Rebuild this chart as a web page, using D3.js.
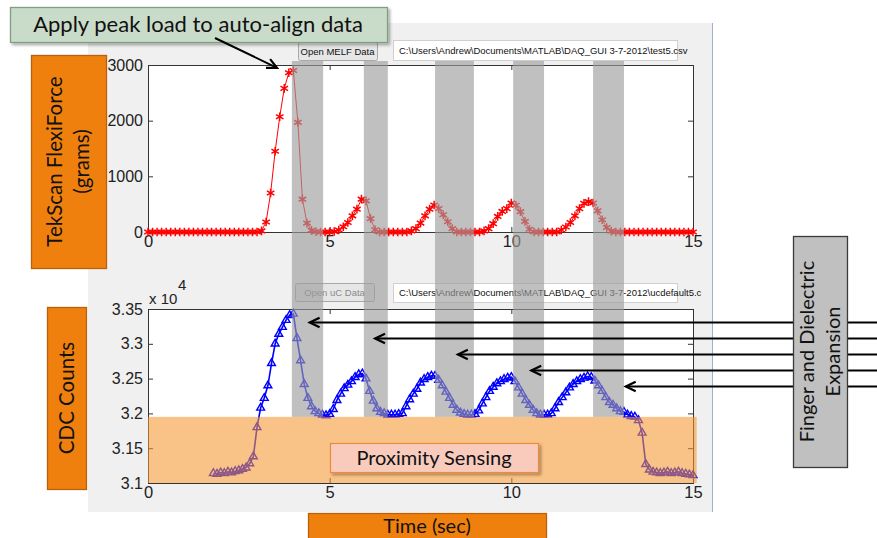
<!DOCTYPE html>
<html>
<head>
<meta charset="utf-8">
<script src="https://cdn.jsdelivr.net/npm/d3@7"></script>
<style>
body { margin: 0; background: #fff; }
svg { display: block; }
</style>
</head>
<body>
<div id="chart"></div>
<script>
// force sensor, sampled every 0.125 s from t = 0
const forceStep = 0.125;
const forceGrams = [
	0, 0, 0, 0, 0, 0, 0, 0, 0, 0, 0, 0, 0, 0, 0, 0, 0, 0, 0, 0, 0, 0, 0, 0, 0,
	20, 180, 700, 1450, 2070, 2580, 2860, 2900, 1970, 590, 160, 30, 5,
	0, 0, 0,
	10, 35, 95, 170, 290, 410, 590, 560, 240, 40,
	0, 0, 0, 0, 0, 0, 0,
	20, 60, 160, 290, 410, 485, 420, 310, 185, 60,
	0, 0, 0, 0, 0, 0,
	20, 60, 150, 280, 370, 420, 520, 480, 365, 190, 50,
	0, 0, 0, 0, 0, 0,
	35, 90, 170, 290, 420, 515, 545, 520, 380, 220, 80, 15,
	0, 0, 0, 0, 0, 0, 0, 0, 0, 0, 0, 0, 0, 0, 0, 0, 0, 0
];

// capacitive counts (x 10^4), sampled every 0.1 s from t = 1.8
const cdcStart = 1.8;
const cdcStep = 0.1;
const cdcCounts = [
	3.114, 3.113, 3.115, 3.114, 3.116, 3.115, 3.117, 3.118, 3.120, 3.122,
	3.128, 3.138, 3.180, 3.208, 3.222, 3.240, 3.272, 3.300, 3.314, 3.324,
	3.334, 3.341, 3.343, 3.308, 3.276, 3.242, 3.222, 3.210, 3.203, 3.200,
	3.198, 3.197, 3.199, 3.206, 3.219, 3.228, 3.236, 3.241, 3.246, 3.252,
	3.256, 3.257, 3.250, 3.232, 3.218, 3.207, 3.202, 3.200, 3.198, 3.198,
	3.198, 3.199, 3.200, 3.210, 3.220, 3.228, 3.235, 3.244, 3.249, 3.252,
	3.254, 3.254, 3.248, 3.240, 3.231, 3.222, 3.212, 3.205, 3.201, 3.199,
	3.198, 3.198, 3.199, 3.204, 3.214, 3.223, 3.232, 3.238, 3.243, 3.246,
	3.249, 3.251, 3.252, 3.246, 3.237, 3.228, 3.219, 3.212, 3.205, 3.200,
	3.198, 3.198, 3.198, 3.200, 3.207, 3.216, 3.223, 3.230, 3.237, 3.242,
	3.246, 3.249, 3.251, 3.253, 3.252, 3.247, 3.240, 3.232, 3.223, 3.216,
	3.212, 3.207, 3.203, 3.202, 3.198, 3.196, 3.195, 3.190, 3.172, 3.127,
	3.119, 3.116, 3.115, 3.114, 3.115, 3.116, 3.114, 3.115, 3.116, 3.114,
	3.113, 3.112, 3.111
];

const timeTicks = [0, 5, 10, 15];
const forceTicks = [0, 1000, 2000, 3000];
const cdcTicks = [3.1, 3.15, 3.2, 3.25, 3.3, 3.35];

// grey "expansion" windows (seconds)
const expansionBands = [[3.96, 4.82], [5.94, 6.6], [7.9, 8.97], [10.05, 10.9], [12.25, 13.1]];
// arrow tips in the lower plot (time, counts)
const arrowTips = [[4.45, 3.331], [6.25, 3.308], [8.53, 3.285], [10.55, 3.262], [13.15, 3.24]];
const proximityLimit = 3.195;

const W = 877, H = 538;
const LABEL_FONT = "Lato, 'Open Sans', sans-serif";
const AXIS_FONT = "'Liberation Sans', Arial, sans-serif";

const svg = d3.select("#chart").append("svg").attr("width", W).attr("height", H);
const defs = svg.append("defs");
defs.append("filter").attr("id", "shadow").attr("x", "-10%").attr("y", "-10%").attr("width", "130%").attr("height", "140%")
	.append("feDropShadow").attr("dx", 2).attr("dy", 2).attr("stdDeviation", 1.5).attr("flood-color", "#000").attr("flood-opacity", 0.35);

const x = d3.scaleLinear([0, 15], [148, 693]);
const yTop = d3.scaleLinear([0, 3000], [232, 65]);
const yBot = d3.scaleLinear([3.1, 3.35], [483, 309]);

const forceData = forceGrams.map((v, i) => ({t: i * forceStep, v}));
const cdcData = cdcCounts.map((v, i) => ({t: cdcStart + i * cdcStep, v}));

// matlab figure background
svg.append("rect").attr("x", 88).attr("y", 23).attr("width", 624).attr("height", 489).attr("fill", "#f0f0f0");
svg.append("line").attr("x1", 712.5).attr("x2", 712.5).attr("y1", 23).attr("y2", 512).attr("stroke", "#9fb0c8");

function button(x0, y0, w, h, label, color) {
	svg.append("rect").attr("x", x0 + 0.5).attr("y", y0 + 0.5).attr("width", w).attr("height", h).attr("rx", 2)
		.attr("fill", "#e6e6e6").attr("stroke", "#a8a8a8");
	svg.append("text").attr("x", x0 + w / 2).attr("y", y0 + h / 2 + 3.5).attr("text-anchor", "middle")
		.style("font-family", AXIS_FONT).style("font-size", "9.5px").style("fill", color).text(label);
}
function textField(x0, y0, w, h, label) {
	svg.append("rect").attr("x", x0 + 0.5).attr("y", y0 + 0.5).attr("width", w).attr("height", h)
		.attr("fill", "#fff").attr("stroke", "#cfcfcf");
	svg.append("text").attr("x", x0 + 6).attr("y", y0 + h / 2 + 3.5)
		.style("font-family", AXIS_FONT).style("font-size", "9.5px").style("fill", "#111").text(label);
}
button(298, 42, 79, 18, "Open MELF Data", "#111");
textField(393, 40, 284, 20, "C:\\Users\\Andrew\\Documents\\MATLAB\\DAQ_GUI 3-7-2012\\test5.csv");
button(295, 283, 79, 18, "Open uC Data", "#8a8a8a");
textField(393, 283, 284, 19, "C:\\Users\\Andrew\\Documents\\MATLAB\\DAQ_GUI 3-7-2012\\ucdefault5.c");

// axes
function drawAxes(y, yTicks, fmt) {
	const [y0, y1] = y.range();
	svg.append("rect").attr("x", x(0)).attr("y", y1).attr("width", x(15) - x(0)).attr("height", y0 - y1).attr("fill", "#fff");
	const g = svg.append("g");
	const style = (sel) => {
		sel.select(".domain").remove();
		sel.selectAll("line").attr("stroke", "#333");
		sel.selectAll("text").style("font-family", AXIS_FONT).style("fill", "#222");
	};
	g.append("g").attr("transform", `translate(0,${y0})`)
		.call(d3.axisBottom(x).tickValues(timeTicks).tickSizeInner(-5).tickSizeOuter(0).tickPadding(3).tickFormat(d3.format("d")))
		.call(style).selectAll("text").style("font-size", "16.5px");
	g.append("g").attr("transform", `translate(0,${y1})`)
		.call(d3.axisTop(x).tickValues(timeTicks).tickSizeInner(-5).tickSizeOuter(0).tickFormat(""))
		.call(style);
	g.append("g").attr("transform", `translate(${x(0)},0)`)
		.call(d3.axisLeft(y).tickValues(yTicks).tickSizeInner(-5).tickSizeOuter(0).tickPadding(5).tickFormat(fmt))
		.call(style).selectAll("text").style("font-size", "16px");
	g.append("g").attr("transform", `translate(${x(15)},0)`)
		.call(d3.axisRight(y).tickValues(yTicks).tickSizeInner(-5).tickSizeOuter(0).tickFormat(""))
		.call(style);
	g.append("rect").attr("x", x(0) + 0.5).attr("y", y1 + 0.5).attr("width", x(15) - x(0)).attr("height", y0 - y1)
		.attr("fill", "none").attr("stroke", "#333");
}
drawAxes(yTop, forceTicks, d3.format("d"));
drawAxes(yBot, cdcTicks, (d) => d3.format(".3~f")(d));

svg.append("text").attr("x", 149).attr("y", 304).style("font-family", AXIS_FONT).style("font-size", "15px").style("fill", "#222").text("x 10");
svg.append("text").attr("x", 178).attr("y", 290).style("font-family", AXIS_FONT).style("font-size", "15px").style("fill", "#222").text("4");

// force trace
svg.append("path").datum(forceData)
	.attr("d", d3.line().x((d) => x(d.t)).y((d) => yTop(d.v)))
	.attr("fill", "none").attr("stroke", "#ff0000").attr("stroke-width", 1);
svg.append("g").selectAll("path").data(forceData).join("path")
	.attr("transform", (d) => `translate(${x(d.t)},${yTop(d.v)})`)
	.attr("d", d3.symbol(d3.symbolAsterisk, 52))
	.attr("fill", "none").attr("stroke", "#ff0000").attr("stroke-width", 1.5);

// capacitance trace
svg.append("path").datum(cdcData)
	.attr("d", d3.line().x((d) => x(d.t)).y((d) => yBot(d.v)))
	.attr("fill", "none").attr("stroke", "#0000ff").attr("stroke-width", 1.6);
svg.append("g").selectAll("path").data(cdcData).join("path")
	.attr("transform", (d) => `translate(${x(d.t)},${yBot(d.v)})`)
	.attr("d", d3.symbol(d3.symbolTriangle2, 44))
	.attr("fill", "none").attr("stroke", "#0000ff").attr("stroke-width", 1.4);

// proximity region
svg.append("rect").attr("x", x(0)).attr("y", yBot(proximityLimit))
	.attr("width", x(15.1) - x(0)).attr("height", yBot(3.1) - yBot(proximityLimit))
	.attr("fill", "#f5962f").attr("opacity", 0.58);

// expansion windows
svg.append("g").selectAll("rect").data(expansionBands).join("rect")
	.attr("x", (d) => x(d[0])).attr("width", (d) => x(d[1]) - x(d[0]))
	.attr("y", 61).attr("height", yBot(proximityLimit) - 61)
	.attr("fill", "#9c9c9c").attr("opacity", 0.64);

// proximity label
svg.append("rect").attr("x", 330.5).attr("y", 443.5).attr("width", 208).attr("height", 29)
	.attr("fill", "#f8cbbd").attr("stroke", "#ee8a3c").attr("stroke-width", 1.2).attr("filter", "url(#shadow)");
svg.append("text").attr("x", 434).attr("y", 465).attr("text-anchor", "middle")
	.style("font-family", LABEL_FONT).style("font-size", "20px").style("fill", "#111").text("Proximity Sensing");

// arrows
function arrow(x1, y1, x2, y2) {
	const a = Math.atan2(y2 - y1, x2 - x1), L = 11, s = 0.45;
	svg.append("line").attr("x1", x1).attr("y1", y1).attr("x2", x2).attr("y2", y2).attr("stroke", "#000").attr("stroke-width", 2);
	svg.append("path")
		.attr("d", `M${x2 - L * Math.cos(a - s)},${y2 - L * Math.sin(a - s)}L${x2},${y2}L${x2 - L * Math.cos(a + s)},${y2 - L * Math.sin(a + s)}`)
		.attr("fill", "none").attr("stroke", "#000").attr("stroke-width", 2.2);
}
arrowTips.forEach(([t, v]) => arrow(W, Math.round(yBot(v)) + 0.5, x(t), Math.round(yBot(v)) + 0.5));

// side labels
function labelBox(x0, y0, w, h, fill, stroke, lines, rotate, size) {
	svg.append("rect").attr("x", x0 + 0.5).attr("y", y0 + 0.5).attr("width", w).attr("height", h)
		.attr("fill", fill).attr("stroke", stroke).attr("stroke-width", 1.3);
	const cx = x0 + w / 2, cy = y0 + h / 2;
	const t = svg.append("text").attr("text-anchor", "middle")
		.attr("transform", rotate ? `translate(${cx},${cy}) rotate(-90)` : `translate(${cx},${cy})`)
		.style("font-family", LABEL_FONT).style("font-size", size + "px").style("fill", "#111");
	const lh = size * 1.3;
	lines.forEach((line, i) => {
		t.append("tspan").attr("x", 0).attr("y", (i - (lines.length - 1) / 2) * lh + size * 0.35).text(line);
	});
}
labelBox(793, 236, 54, 231, "#c0c0c0", "#3a3a3a", ["Finger and Dielectric", "Expansion"], true, 20);
labelBox(31, 55, 75, 213, "#f0800e", "#b8600c", ["TekScan FlexiForce", "(grams)"], true, 20.5);
labelBox(47, 307, 39, 182, "#f0800e", "#b8600c", ["CDC Counts"], true, 20.5);
labelBox(308, 513, 238, 26, "#f0800e", "#b8600c", ["Time (sec)"], false, 20);

// top callout
svg.append("rect").attr("x", 10.5).attr("y", 7.5).attr("width", 377).attr("height", 35)
	.attr("fill", "#c9dbc9").attr("stroke", "#7f9f7f").attr("stroke-width", 1.3).attr("filter", "url(#shadow)");
svg.append("text").attr("x", 198).attr("y", 32).attr("text-anchor", "middle")
	.style("font-family", LABEL_FONT).style("font-size", "22px").style("fill", "#111").text("Apply peak load to auto-align data");
arrow(215, 38, x(3.55), yTop(2950));
</script>
</body>
</html>
